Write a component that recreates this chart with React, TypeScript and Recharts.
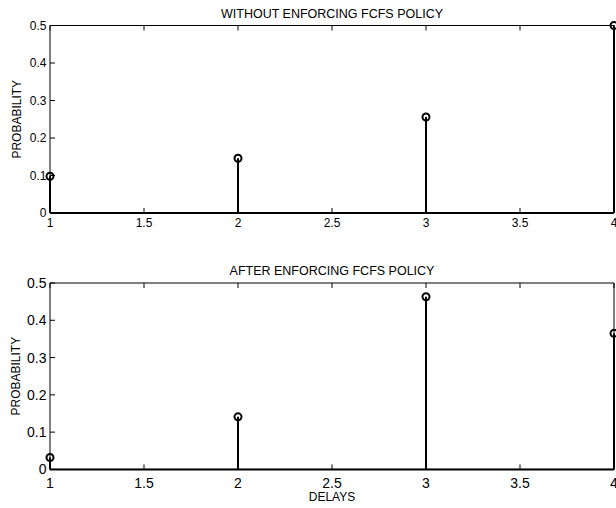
import React from "react";
import { ComposedChart, XAxis, YAxis, Scatter, ReferenceLine } from "recharts";

const delays = [1, 2, 3, 4];
const probWithout = [0.098, 0.146, 0.256, 0.5];
const probAfter = [0.032, 0.141, 0.463, 0.365];
const xTicks = [1, 1.5, 2, 2.5, 3, 3.5, 4];
const yTicks = [0, 0.1, 0.2, 0.3, 0.4, 0.5];

const FONT = '"Liberation Sans", Arial, Helvetica, sans-serif';

const StemCircle = (props: any) => (
  <circle cx={props.cx} cy={props.cy} r={3.5} fill="none" stroke="#000" strokeWidth={2} />
);

const NoTick = () => <g />;

type PanelProps = {
  values: number[];
  title: string;
  height: number;
  marginTop: number;
  marginBottom: number;
  tickFont: number;
  xTickMargin: number;
  xLabel?: string;
};

function Panel({ values, title, height, marginTop, marginBottom, tickFont, xTickMargin, xLabel }: PanelProps) {
  const rows = delays.map((d, i) => ({ x: d, p: values[i] }));
  return (
    <ComposedChart
      width={616}
      height={height}
      data={rows}
      margin={{ top: marginTop, right: 0, left: 0, bottom: marginBottom }}
      style={{ fontFamily: FONT }}
    >
      <XAxis
        xAxisId="b"
        type="number"
        dataKey="x"
        domain={[1, 4]}
        ticks={xTicks}
        tickSize={-5}
        tickMargin={xTickMargin}
        stroke="#000"
        tick={{ fill: "#000", fontSize: tickFont, fontFamily: FONT }}
        height={30}
        interval={0}
        label={
          xLabel
            ? {
                content: (p: any) => {
                  const vb = p.viewBox;
                  return (
                    <text
                      x={vb.x + vb.width / 2}
                      y={vb.y + 31.5}
                      textAnchor="middle"
                      fontSize={12}
                      fontFamily={FONT}
                      fill="#000"
                    >
                      {xLabel}
                    </text>
                  );
                },
              }
            : undefined
        }
      />
      <XAxis
        xAxisId="t"
        orientation="top"
        type="number"
        dataKey="x"
        domain={[1, 4]}
        ticks={xTicks}
        tickSize={-5}
        tickMargin={0}
        stroke="#000"
        tick={NoTick}
        height={1}
        interval={0}
        label={{
          content: (p: any) => {
            const vb = p.viewBox;
            return (
              <text
                x={vb.x + vb.width / 2}
                y={vb.y - 7}
                textAnchor="middle"
                fontSize={12.5}
                fontFamily={FONT}
                fill="#000"
              >
                {title}
              </text>
            );
          },
        }}
      />
      <YAxis
        yAxisId="l"
        type="number"
        domain={[0, 0.5]}
        ticks={yTicks}
        tickSize={-5}
        tickMargin={8.5}
        width={50}
        stroke="#000"
        tick={{ fill: "#000", fontSize: tickFont, fontFamily: FONT }}
        interval={0}
        label={{
          content: (p: any) => {
            const vb = p.viewBox;
            const cx = vb.x + 16.5;
            const cy = vb.y + vb.height / 2;
            return (
              <text
                x={cx}
                y={cy}
                transform={`rotate(-90, ${cx}, ${cy})`}
                textAnchor="middle"
                dominantBaseline="central"
                fontSize={12}
                fontFamily={FONT}
                fill="#000"
              >
                PROBABILITY
              </text>
            );
          },
        }}
      />
      <YAxis
        yAxisId="r"
        orientation="right"
        type="number"
        domain={[0, 0.5]}
        ticks={yTicks}
        tickSize={-5}
        tickMargin={0}
        width={2}
        stroke="#000"
        tick={NoTick}
        interval={0}
      />
      <ReferenceLine xAxisId="b" yAxisId="l" y={0} stroke="#000" strokeWidth={2} />
      {rows.map((r) => (
        <ReferenceLine
          key={r.x}
          xAxisId="b"
          yAxisId="l"
          segment={[
            { x: r.x, y: 0 },
            { x: r.x, y: r.p },
          ]}
          stroke="#000"
          strokeWidth={2}
          ifOverflow="visible"
        />
      ))}
      <Scatter
        xAxisId="b"
        yAxisId="l"
        dataKey="p"
        isAnimationActive={false}
        shape={StemCircle}
      />
    </ComposedChart>
  );
}

export default function App() {
  return (
    <div style={{ position: "absolute", left: 0, top: 0, width: 616, height: 508, background: "#fff" }}>
      <div style={{ position: "absolute", left: 0, top: 0 }}>
        <Panel
          values={probWithout}
          title="WITHOUT ENFORCING FCFS POLICY"
          height={250}
          marginTop={24.5}
          marginBottom={7}
          tickFont={12}
          xTickMargin={10}
        />
      </div>
      <div style={{ position: "absolute", left: 0, top: 250 }}>
        <Panel
          values={probAfter}
          title="AFTER ENFORCING FCFS POLICY"
          height={258}
          marginTop={32}
          marginBottom={8.6}
          tickFont={14}
          xTickMargin={14}
          xLabel="DELAYS"
        />
      </div>
    </div>
  );
}
